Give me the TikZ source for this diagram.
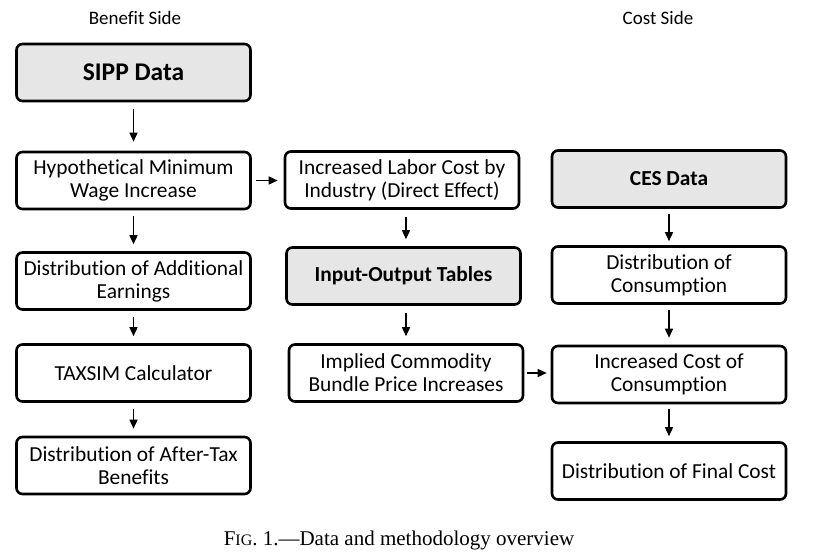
\documentclass[tikz,border=0pt]{standalone}
\usepackage{fontspec}
\setmainfont{Carlito}[Ligatures={TeX,NoCommon}]
\newfontfamily\capfont[Ligatures=TeX]{Liberation Serif}
\usetikzlibrary{arrows.meta}
\definecolor{boxgray}{RGB}{230,230,230}
\begin{document}
\begin{tikzpicture}[x=1pt,y=-1pt,
    stage/.style={draw, line width=2.6pt, rounded corners=6pt, fill=white,
      minimum width=234pt, minimum height=57pt, align=center,
      font=\fontsize{21.4}{23}\selectfont},
    datasrc/.style={stage, fill=boxgray, font=\fontsize{21.4}{23}\selectfont\bfseries},
    flow/.style={-{Triangle[length=9pt,width=8pt]}, line width=1.5pt},
    side/.style={font=\fontsize{19}{22}\selectfont}]
        \useasboundingbox (0,0) rectangle (816,555);

        % Column headings
        \node[side] (bhead) at (135,18) {Benefit Side};
        \node[side] (chead) at (658,18) {Cost Side};

        % Benefit side
        \node[datasrc, font=\fontsize{25.5}{28}\selectfont\bfseries] (sipp) at (133.5,72.5) {SIPP Data};
        \node[stage] (hyp) at (133.5,180.5) {Hypothetical Minimum\\Wage Increase};
        \node[stage] (addearn) at (133.5,281) {Distribution of Additional\\Earnings};
        \node[stage] (taxsim) at (133.5,373) {TAXSIM Calculator};
        \node[stage] (aftertax) at (133.5,465.5) {Distribution of After-Tax\\Benefits};

        % Middle column
        \node[stage] (labor) at (402,180) {Increased Labor Cost by\\Industry (Direct Effect)};
        \node[datasrc] (iotab) at (403.5,276) {Input-Output Tables};
        \node[stage] (implied) at (406,373) {Implied Commodity\\Bundle Price Increases};

        % Cost side
        \node[datasrc] (ces) at (669,179) {CES Data};
        \node[stage] (distcons) at (669,275) {Distribution of\\Consumption};
        \node[stage] (inccost) at (669,374.5) {Increased Cost of\\Consumption};
        \node[stage] (final) at (669,471) {Distribution of Final Cost};

        % Arrows down the benefit side
        \draw[flow, shorten <=7pt, shorten >=9pt] (sipp) -- (hyp);
        \draw[flow, shorten <=6pt, shorten >=7pt] (hyp) -- (addearn);
        \draw[flow, shorten <=6pt, shorten >=7pt] (addearn) -- (taxsim);
        \draw[flow, shorten <=6pt, shorten >=7pt] (taxsim) -- (aftertax);

        % Arrows in the middle
        \draw[flow, shorten <=4pt, shorten >=6pt] (hyp) -- (labor.west |- hyp);
        \draw[flow, shorten <=7pt, shorten >=7pt] (labor.south -| implied) -- (implied |- iotab.north);
        \draw[flow, shorten <=7pt, shorten >=7pt] (iotab.south -| implied) -- (implied);
        \draw[flow, shorten <=3pt, shorten >=4pt] (implied) -- (inccost.west |- implied);

        % Arrows down the cost side
        \draw[flow, shorten <=5pt, shorten >=4pt] (ces) -- (distcons);
        \draw[flow, shorten <=5pt, shorten >=7pt] (distcons) -- (inccost);
        \draw[flow, shorten <=5pt, shorten >=5pt] (inccost) -- (final);

        % Caption
        \node[font=\capfont\fontsize{21}{23}\selectfont] (caption) at (399,540)
          {F{\fontsize{16}{18}\selectfont IG}. 1.---Data and methodology overview};
      \end{tikzpicture}
\end{document}
